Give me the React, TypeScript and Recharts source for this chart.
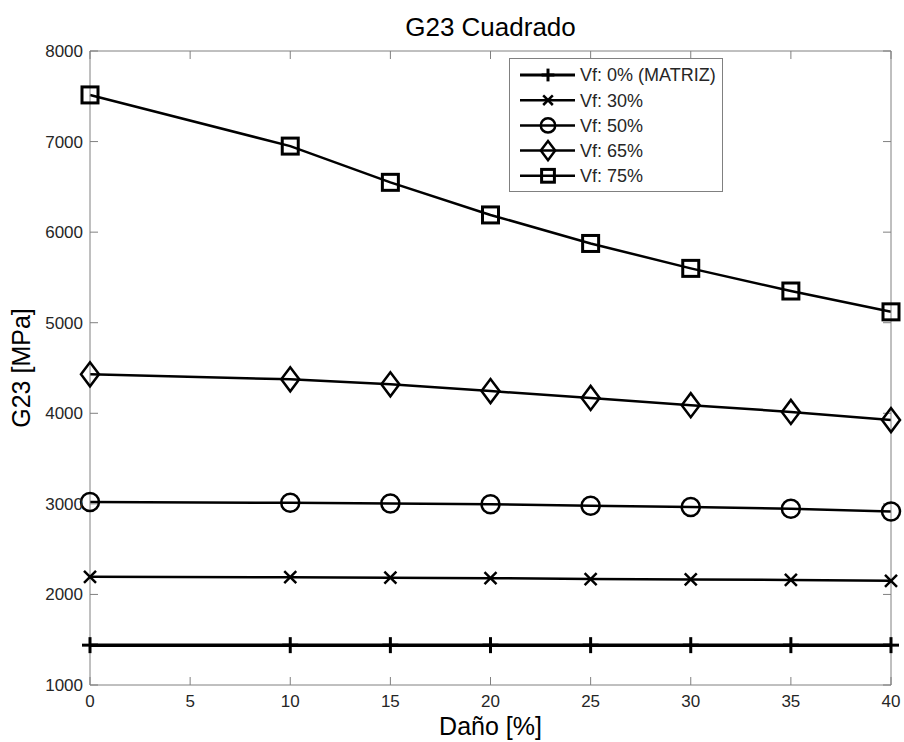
import React from 'react';
import { LineChart, Line, XAxis, YAxis, Legend } from 'recharts';

// Daño [%] values on the x axis (no point at 5)
const damage = [0, 10, 15, 20, 25, 30, 35, 40];

// G23 [MPa] per fibre volume fraction
const vf0 = [1440, 1440, 1440, 1440, 1440, 1440, 1440, 1440];
const vf30 = [2195, 2190, 2185, 2180, 2170, 2165, 2160, 2150];
const vf50 = [3020, 3012, 3005, 2995, 2980, 2965, 2945, 2915];
const vf65 = [4430, 4375, 4320, 4245, 4170, 4090, 4015, 3925];
const vf75 = [7515, 6950, 6550, 6190, 5875, 5600, 5350, 5120];

const xTicks = [0, 5, 10, 15, 20, 25, 30, 35, 40];
const yTicks = [1000, 2000, 3000, 4000, 5000, 6000, 7000, 8000];

const seriesNames = ['Vf: 0% (MATRIZ)', 'Vf: 30%', 'Vf: 50%', 'Vf: 65%', 'Vf: 75%'];
const seriesKeys = ['vf0', 'vf30', 'vf50', 'vf65', 'vf75'];
const seriesMarkers = ['plus', 'cross', 'circle', 'diamond', 'square'];

const rows = damage.map((d, i) => ({
  damage: d,
  vf0: vf0[i],
  vf30: vf30[i],
  vf50: vf50[i],
  vf65: vf65[i],
  vf75: vf75[i],
}));

const AXIS = '#808080';
const TXT = '#262626';

function Marker({ kind, cx, cy, s = 1 }: any) {
  const st = { stroke: '#000', strokeWidth: 2.5, fill: 'none' };
  if (kind === 'plus') {
    return (
      <g>
        <line x1={cx} x2={cx} y1={cy - 8 * s} y2={cy + 8 * s} stroke="#000" strokeWidth={3} />
        <line x1={cx - 8 * s} x2={cx + 8 * s} y1={cy} y2={cy} stroke="#000" strokeWidth={3} />
      </g>
    );
  }
  if (kind === 'cross') {
    const d = 6 * s;
    return (
      <g>
        <line x1={cx - d} x2={cx + d} y1={cy - d} y2={cy + d} {...st} />
        <line x1={cx - d} x2={cx + d} y1={cy + d} y2={cy - d} {...st} />
      </g>
    );
  }
  if (kind === 'circle') return <circle cx={cx} cy={cy} r={9 * s} {...st} />;
  if (kind === 'diamond') {
    const w = 9 * s, h = 12 * s;
    return <polygon points={`${cx - w},${cy} ${cx},${cy - h} ${cx + w},${cy} ${cx},${cy + h}`} {...st} />;
  }
  const a = 8 * s;
  return <rect x={cx - a} y={cy - a} width={2 * a} height={2 * a} {...st} strokeWidth={3} />;
}

const renderLegend = () => (
  <div style={{ width: 214, height: 134, border: `1px solid ${AXIS}`, background: '#fff', boxSizing: 'border-box' }}>
    <svg width={212} height={132} style={{ display: 'block' }}>
      {seriesNames.map((name, i) => {
        const y = 16 + i * 25.2;
        return (
          <g key={name}>
            <line x1={10} x2={65} y1={y} y2={y} stroke="#000" strokeWidth={i === 0 ? 3 : 2.5} />
            <Marker kind={seriesMarkers[i]} cx={38} cy={y} s={0.8} />
            <text x={70} y={y} dy="0.36em" fontSize={18} fill={TXT}>{name}</text>
          </g>
        );
      })}
    </svg>
  </div>
);

export default function App() {
  return (
    <div style={{ position: 'absolute', left: 0, top: 0, background: '#fff', fontFamily: '"Liberation Sans", Arial, sans-serif' }}>
      <LineChart width={904} height={742} data={rows} margin={{ top: 50, right: 12, bottom: 7, left: 8 }}>
        <XAxis
          xAxisId="b"
          dataKey="damage"
          type="number"
          domain={[0, 40]}
          ticks={xTicks}
          height={50}
          stroke={AXIS}
          tickSize={-8}
          tickMargin={18}
          tick={{ fill: TXT, fontSize: 17 }}
          label={{ value: 'Daño [%]', position: 'insideBottom', offset: 0, fontSize: 25, fill: '#000' }}
        />
        <XAxis
          xAxisId="t"
          dataKey="damage"
          orientation="top"
          type="number"
          domain={[0, 40]}
          ticks={xTicks}
          height={1}
          stroke={AXIS}
          tickSize={-8}
          tickFormatter={() => ''}
          label={{ value: 'G23 Cuadrado', position: 'top', offset: 14, fontSize: 26, fill: '#000' }}
        />
        <YAxis
          yAxisId="l"
          type="number"
          domain={[1000, 8000]}
          ticks={yTicks}
          width={82}
          stroke={AXIS}
          tickSize={-8}
          tickMargin={15}
          tick={{ fill: TXT, fontSize: 17 }}
          label={{ value: 'G23 [MPa]', angle: -90, position: 'insideLeft', offset: 13, fontSize: 25, fill: '#000', style: { textAnchor: 'middle' } }}
        />
        <YAxis
          yAxisId="r"
          orientation="right"
          type="number"
          domain={[1000, 8000]}
          ticks={yTicks}
          width={1}
          stroke={AXIS}
          tickSize={-8}
          tickFormatter={() => ''}
        />
        <Legend layout="vertical" align="center" verticalAlign="middle" content={renderLegend}
          wrapperStyle={{ left: 509, top: 58, width: 214, height: 134 }} />
        {/* invisible series so the top and right frame axes get drawn */}
        <Line xAxisId="t" yAxisId="r" dataKey="vf0" stroke="none" dot={false} activeDot={false}
          legendType="none" isAnimationActive={false} />
        {seriesKeys.map((k, i) => (
          <Line
            key={k}
            xAxisId="b"
            yAxisId="l"
            type="linear"
            dataKey={k}
            name={seriesNames[i]}
            stroke="#000"
            strokeWidth={i === 0 ? 3.5 : 2.5}
            isAnimationActive={false}
            dot={(p: any) => <Marker key={`${k}-${p.index}`} kind={seriesMarkers[i]} cx={p.cx} cy={p.cy} />}
            activeDot={false}
          />
        ))}
      </LineChart>
    </div>
  );
}
